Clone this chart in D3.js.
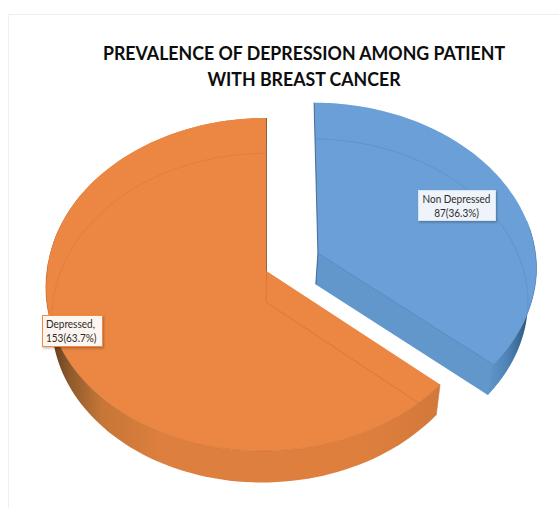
<!DOCTYPE html>
<html>
<head>
<meta charset="utf-8">
<script src="https://cdn.jsdelivr.net/npm/d3@7"></script>
<style>
html,body{margin:0;padding:0;background:#fff}
svg{display:block}
text{font-family:Lato,"Open Sans",sans-serif}
</style>
</head>
<body>
<svg id="chart" width="559" height="508"></svg>
<script>
// Chart content
const categories = ["Non Depressed", "Depressed"];
const counts = [87, 153];
const labelLines = [["Non Depressed", "87(36.3%)"], ["Depressed,", "153(63.7%)"]];
const titleLines = ["PREVALENCE OF DEPRESSION AMONG PATIENT", "WITH BREAST CANCER"];
const explosion = [0.26, 0];

const svg = d3.select("#chart");
const defs = svg.append("defs");

// Perspective view of the disc: one plane for the top face, one for the base.
const planes = [
  {cx: 266.5, cy: 271, a: 219.5, b: 165.4, k: 0.081},
  {cx: 266, cy: 302, a: 213, b: 163, k: 0.097}
];
const frontSkew = 4;
function project(u, v, level) {
  const p = planes[level], w = 1 - p.k * v;
  return [p.cx + p.a * u / w - frontSkew * Math.max(v, 0), p.cy + p.b * v / w];
}

const slices = d3.pie().sort(null).value(d => d)(counts);
const line = d3.line();

// Point on a slice: radius r and angle t, clockwise from twelve o'clock.
function slicePoint(s, i, r, t, level) {
  const mid = (s.startAngle + s.endAngle) / 2;
  const u = explosion[i] * Math.sin(mid) + r * Math.sin(t);
  const v = -explosion[i] * Math.cos(mid) - r * Math.cos(t);
  return project(u, v, level);
}
function arcPoints(s, i, level, from = s.startAngle, to = s.endAngle) {
  const n = 120;
  return d3.range(n + 1).map(j => slicePoint(s, i, 1, from + (to - from) * j / n, level));
}

function gradient(id, x1, x2, stops) {
  const g = defs.append("linearGradient").attr("id", id)
    .attr("gradientUnits", "userSpaceOnUse")
    .attr("x1", x1).attr("x2", x2).attr("y1", 0).attr("y2", 0);
  stops.forEach(([o, c]) => g.append("stop").attr("offset", o).attr("stop-color", c));
}
gradient("wallDepressed", 50, 445, [[0, "#5f3a1c"], [0.05, "#8f5a2c"], [0.13, "#c67636"], [0.28, "#dd7f3e"], [0.8, "#de7f3e"], [1, "#d2783a"]]);
gradient("wallNon", 488, 530, [[0, "#5e96cc"], [0.45, "#4f84b8"], [0.8, "#39668f"], [1, "#264a6b"]]);

defs.append("filter").attr("id", "boxShadow")
  .attr("x", "-10%").attr("y", "-10%").attr("width", "125%").attr("height", "130%")
  .append("feDropShadow").attr("dx", 1).attr("dy", 1.5).attr("stdDeviation", 1.2)
  .attr("flood-color", "#000").attr("flood-opacity", 0.25);

// Panel edge
svg.append("path").attr("d", "M8.5,508V14.5H559").attr("fill", "none").attr("stroke", "#efefef");

// Title, condensed horizontally about its centre line
svg.append("g").attr("transform", "translate(304,0) scale(0.91,1)")
  .selectAll("text").data(titleLines).join("text")
  .attr("x", 0).attr("y", (d, i) => 60.5 + i * 25.5)
  .attr("text-anchor", "middle").attr("font-size", 19.5).attr("font-weight", 700).attr("fill", "#0d0d0d")
  .text(d => d);

const styles = [
  {top: "#6a9fd7", edge: "#4d86c0", faint: "#5b93cc", cut: "#6297cb", wall: "url(#wallNon)", sliver: "#1f4468"},
  {top: "#ec8743", edge: "#c96c2c", faint: "#dc7c3c", cut: "#de7f3e", wall: "url(#wallDepressed)", sliver: "#4a2a10"}
];

slices.forEach((s, i) => {
  const st = styles[i], g = svg.append("g");
  const apexTop = slicePoint(s, i, 0, 0, 0), apexBase = slicePoint(s, i, 0, 0, 1);
  const topRim = arcPoints(s, i, 0), baseRim = arcPoints(s, i, 1);
  const topFace = [apexTop, ...topRim];
  const clipId = "face" + i;
  defs.append("clipPath").attr("id", clipId).append("path").attr("d", line(topFace) + "Z");

  if (i === 0) {
    // Cut face toward the viewer and the outer wall at the right
    g.append("path").attr("fill", st.cut)
      .attr("d", line([apexTop, topRim[120], baseRim[120], apexBase]) + "Z");
    const wallFrom = s.startAngle + (s.endAngle - s.startAngle) * 0.62;
    g.append("path").attr("fill", st.wall)
      .attr("d", line([...arcPoints(s, i, 0, wallFrom, s.endAngle),
                       ...arcPoints(s, i, 1, wallFrom, s.endAngle).reverse()]) + "Z");
  } else {
    // Outer wall running round the front
    g.append("path").attr("fill", st.wall)
      .attr("d", line([...topRim, ...baseRim.slice().reverse()]) + "Z");
  }

  g.append("path").attr("fill", st.top).attr("d", line(topFace) + "Z");

  // Front rim and the edges of the base showing faintly through the top face
  const rimFrom = i === 0 ? s.startAngle + (s.endAngle - s.startAngle) * 0.6 : s.startAngle;
  const rimTo = i === 0 ? s.endAngle : s.startAngle + (s.endAngle - s.startAngle) * 0.62;
  g.append("path").attr("fill", "none").attr("stroke", st.edge).attr("stroke-width", 0.8).attr("opacity", 0.7)
    .attr("d", line(arcPoints(s, i, 0, rimFrom, rimTo)));
  g.append("path").attr("fill", "none").attr("stroke", st.faint).attr("stroke-width", 0.8)
    .attr("clip-path", `url(#${clipId})`)
    .attr("d", line(baseRim));

  if (i === 0) {
    g.append("path").attr("fill", "none").attr("stroke", "#4a84bf").attr("stroke-width", 0.9)
      .attr("d", line([apexTop, topRim[120]]));
    g.append("path").attr("fill", "none").attr("stroke", "#4f88c0").attr("stroke-width", 0.7)
      .attr("d", line([topRim[120], baseRim[120]]));
    g.append("path").attr("fill", "none").attr("stroke", st.sliver).attr("stroke-width", 1).attr("opacity", 0.7)
      .attr("d", line([topRim[0], apexTop, apexBase]));
  } else {
    g.append("path").attr("fill", "none").attr("stroke", "#d27636").attr("stroke-width", 0.8)
      .attr("d", line([apexTop, apexBase, baseRim[0]]));
    g.append("path").attr("fill", "none").attr("stroke", st.sliver).attr("stroke-width", 1).attr("opacity", 0.6)
      .attr("d", line([apexTop, topRim[120]]));
    g.append("path").attr("fill", "none").attr("stroke", "#cf7434").attr("stroke-width", 0.7).attr("opacity", 0.8)
      .attr("d", line([topRim[0], baseRim[0]]));
  }
});

// Data labels
const labelBoxes = [
  {x: 418, y: 190, w: 77, h: 30, fill: "#eff4fa", stroke: "#d7e4f2", anchor: "middle"},
  {x: 42, y: 315, w: 60, h: 31, fill: "#fdf5ef", stroke: "#ee8a45", anchor: "start"}
];
labelBoxes.forEach((b, i) => {
  svg.append("rect").attr("x", b.x + 0.5).attr("y", b.y + 0.5).attr("width", b.w).attr("height", b.h)
    .attr("fill", b.fill).attr("stroke", b.stroke).attr("filter", "url(#boxShadow)");
  svg.append("g").selectAll("text").data(labelLines[i]).join("text")
    .attr("transform", (d, j) => `translate(${b.anchor === "middle" ? b.x + b.w / 2 : b.x + 4},${b.y + 13 + j * 14.3}) scale(0.91,1)`)
    .attr("text-anchor", b.anchor).attr("font-size", 11).attr("fill", "#2b2b2b")
    .text(d => d);
});
</script>
</body>
</html>
